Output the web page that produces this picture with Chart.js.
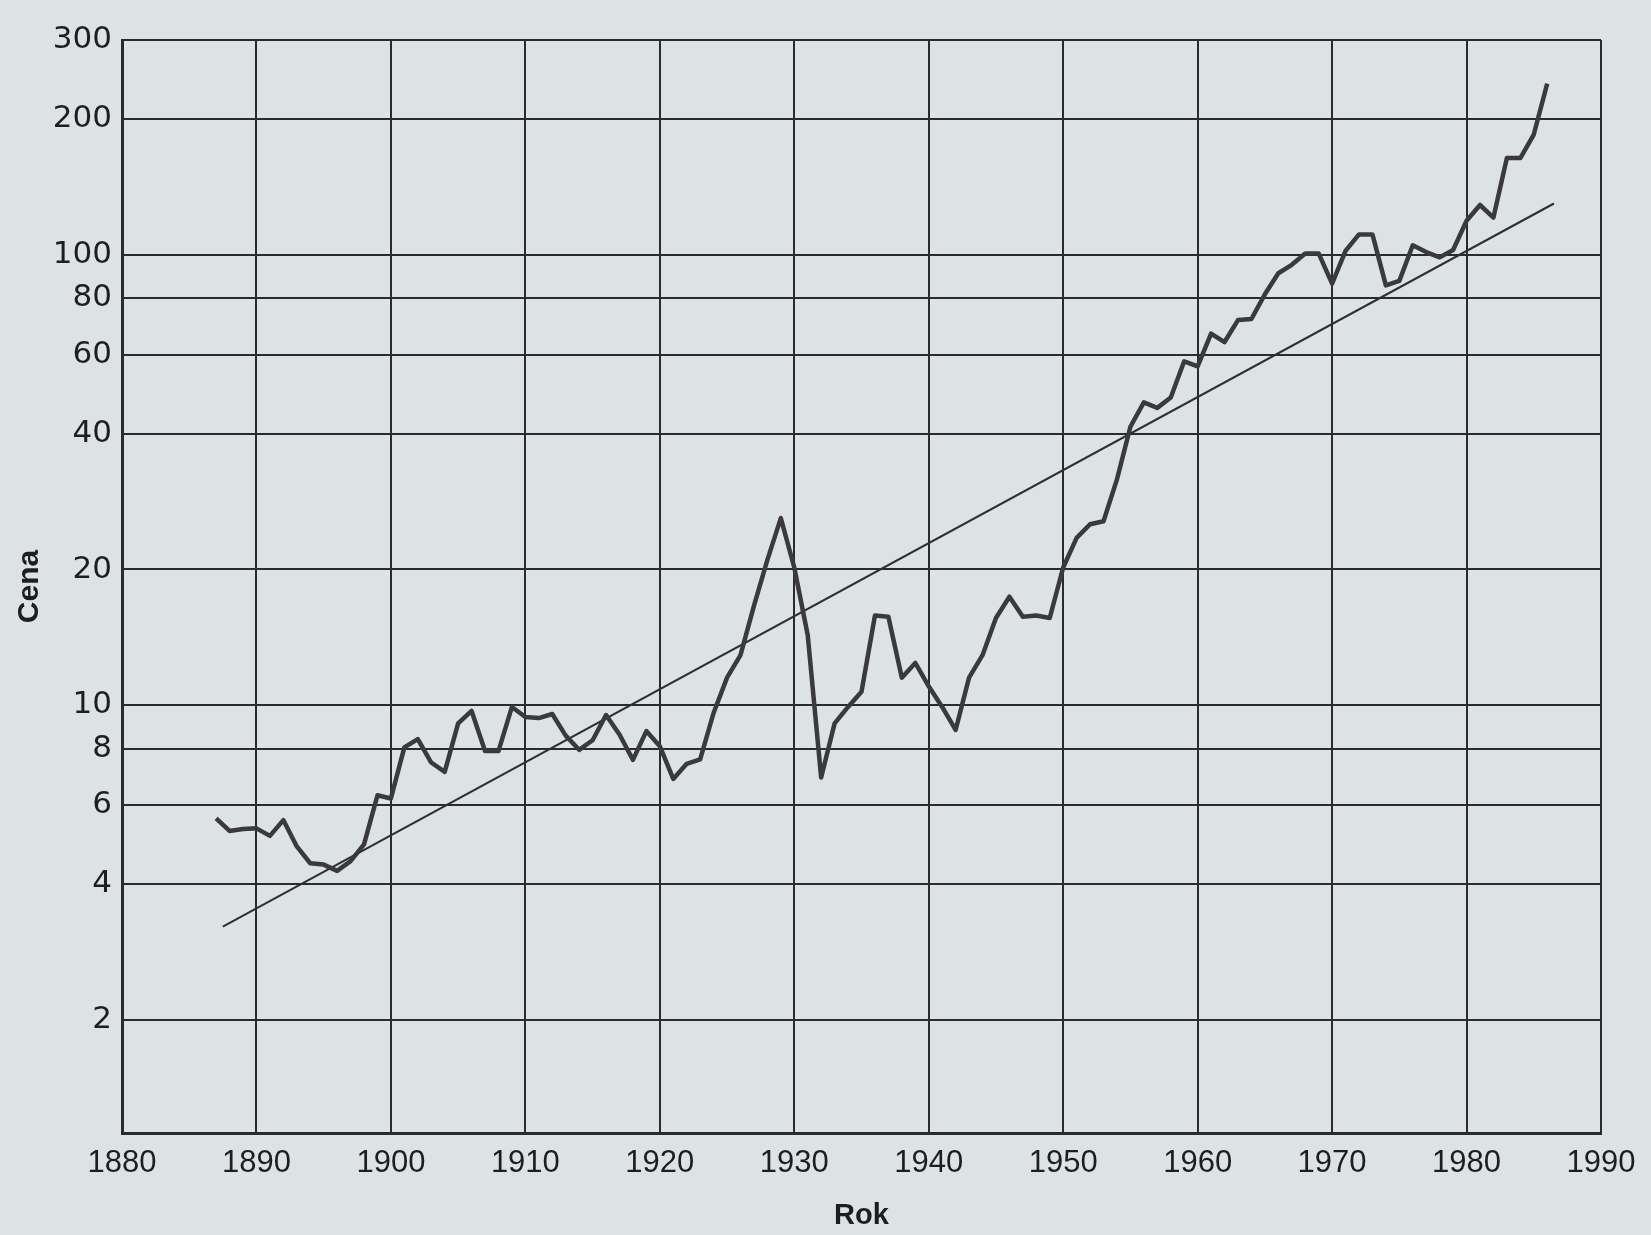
<!DOCTYPE html>
<html lang="cs">
<head>
<meta charset="UTF-8">
<title>Cena</title>
<script src="https://cdn.jsdelivr.net/npm/chart.js"></script>
<style>
  html, body { margin: 0; padding: 0; background: #dde2e5; }
  #wrap { width: 1651px; height: 1235px; position: relative; }
</style>
</head>
<body>
<div id="wrap"><canvas id="chart" width="1651" height="1235"></canvas></div>
<script>
// roky a ceny
const years = [
  1887, 1888, 1889, 1890, 1891, 1892, 1893, 1894, 1895, 1896,
  1897, 1898, 1899, 1900, 1901, 1902, 1903, 1904, 1905, 1906,
  1907, 1908, 1909, 1910, 1911, 1912, 1913, 1914, 1915, 1916,
  1917, 1918, 1919, 1920, 1921, 1922, 1923, 1924, 1925, 1926,
  1927, 1928, 1929, 1930, 1931, 1932, 1933, 1934, 1935, 1936,
  1937, 1938, 1939, 1940, 1941, 1942, 1943, 1944, 1945, 1946,
  1947, 1948, 1949, 1950, 1951, 1952, 1953, 1954, 1955, 1956,
  1957, 1958, 1959, 1960, 1961, 1962, 1963, 1964, 1965, 1966,
  1967, 1968, 1969, 1970, 1971, 1972, 1973, 1974, 1975, 1976,
  1977, 1978, 1979, 1980, 1981, 1982, 1983, 1984, 1985, 1986
];
const prices = [
  5.6, 5.25, 5.3, 5.32, 5.12, 5.55, 4.85, 4.45, 4.42, 4.28,
  4.5, 4.9, 6.3, 6.2, 8.05, 8.4, 7.45, 7.1, 9.1, 9.7,
  7.9, 7.9, 9.9, 9.4, 9.35, 9.55, 8.55, 7.95, 8.35, 9.5,
  8.6, 7.55, 8.75, 8.1, 6.85, 7.4, 7.57, 9.6, 11.5, 12.9,
  16.6, 21, 26, 20.2, 14.3, 6.9, 9.1, 9.9, 10.7, 15.8,
  15.7, 11.5, 12.4, 11.0, 9.9, 8.8, 11.5, 12.9, 15.6, 17.4,
  15.7, 15.8, 15.6, 20.2, 23.5, 25.2, 25.6, 31.7, 41.5, 47,
  45.7, 48.2, 58, 56.5, 66.8, 64, 71.6, 72, 81.7, 91,
  95, 100.7, 100.7, 86.3, 102, 111, 111, 85.5, 87.5, 105,
  101.4, 98.7, 102.5, 119, 129, 121, 164, 164, 185, 240
];
// trendová přímka (začátek a konec)
const trendYears = [1887.5, 1986.5];
const trendPrices = [3.22, 130];

const yTicks = [2, 4, 6, 8, 10, 20, 40, 60, 80, 100, 200, 300];
const xTicks = [1880, 1890, 1900, 1910, 1920, 1930, 1940, 1950, 1960, 1970, 1980, 1990];

const ink = '#2b2b2e';

const paperBg = {
  id: 'paperBg',
  beforeDraw(chart) {
    const c = chart.ctx;
    c.save();
    c.fillStyle = '#dde2e5';
    c.fillRect(0, 0, chart.width, chart.height);
    c.restore();
  }
};

new Chart(document.getElementById('chart'), {
  type: 'line',
  data: {
    datasets: [
      {
        data: years.map((y, i) => ({ x: y, y: prices[i] })),
        borderColor: '#3a3a3c',
        borderWidth: 4.5,
        pointRadius: 0,
        tension: 0,
        borderJoinStyle: 'round'
      },
      {
        data: trendYears.map((y, i) => ({ x: y, y: trendPrices[i] })),
        borderColor: '#2f2f32',
        borderWidth: 2,
        pointRadius: 0,
        tension: 0
      }
    ]
  },
  options: {
    responsive: false,
    animation: false,
    layout: { padding: { left: 8, right: 50, top: 40, bottom: 2 } },
    plugins: { legend: { display: false }, tooltip: { enabled: false } },
    scales: {
      x: {
        type: 'linear',
        min: 1880,
        max: 1990,
        afterBuildTicks: s => { s.ticks = xTicks.map(v => ({ value: v })); },
        afterFit: s => { s.height = 100; },
        grid: { color: ink, lineWidth: 2, drawTicks: false },
        border: { color: ink, width: 3 },
        ticks: {
          color: '#1e1e22',
          padding: 12,
          maxRotation: 0,
          font: { family: '"Liberation Sans Narrow", "Liberation Sans", sans-serif', size: 31 },
          callback: v => String(v)
        },
        title: {
          display: true,
          text: 'Rok',
          color: '#1e1e22',
          padding: { top: 4, bottom: 0 },
          font: { family: '"Liberation Sans", sans-serif', size: 29, weight: 'bold' }
        }
      },
      y: {
        type: 'logarithmic',
        min: 1.12,
        max: 300,
        afterBuildTicks: s => { s.ticks = yTicks.map(v => ({ value: v })); },
        afterFit: s => { s.width = 114; },
        grid: { color: ink, lineWidth: 2, drawTicks: false },
        border: { color: ink, width: 3 },
        ticks: {
          color: '#1e1e22',
          padding: 10,
          font: { family: '"DejaVu Sans", sans-serif', size: 31 },
          callback: v => String(v)
        },
        title: {
          display: true,
          text: 'Cena',
          color: '#1e1e22',
          padding: { bottom: 0 },
          font: { family: '"Liberation Sans", sans-serif', size: 30, weight: 'bold' }
        }
      }
    }
  },
  plugins: [paperBg]
});
</script>
</body>
</html>
